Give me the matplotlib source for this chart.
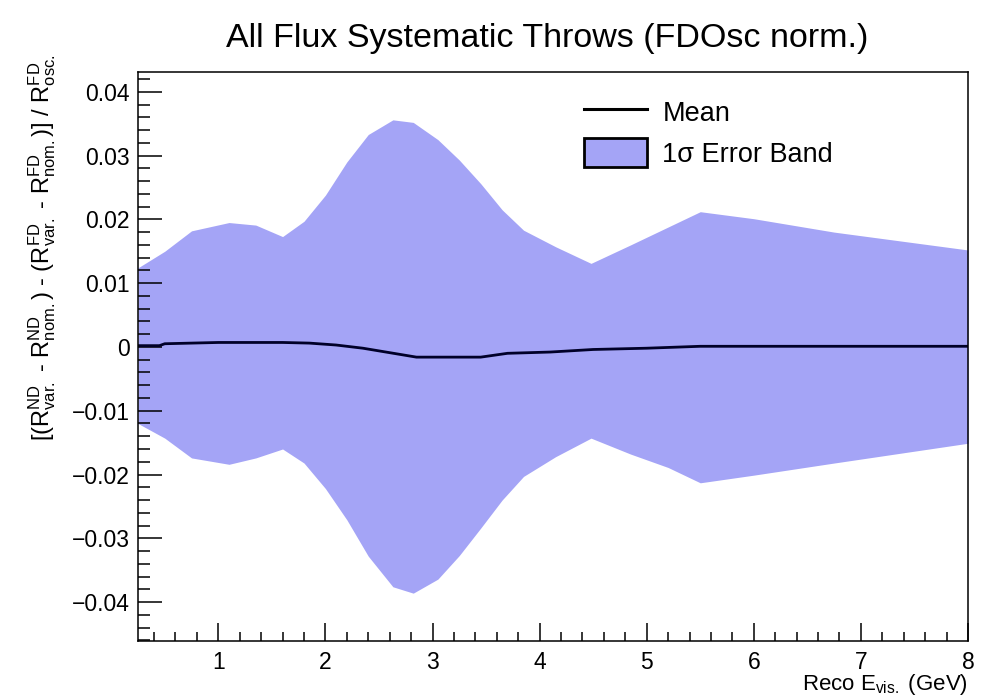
import matplotlib
matplotlib.use("Agg")
import matplotlib.pyplot as plt
from matplotlib.lines import Line2D
from matplotlib.patches import Patch
from matplotlib.ticker import MultipleLocator

plt.rcParams['font.family'] = ['Liberation Sans', 'DejaVu Sans']
plt.rcParams['mathtext.fontset'] = 'custom'
plt.rcParams['mathtext.rm'] = 'Liberation Sans'
plt.rcParams['mathtext.it'] = 'Liberation Sans:italic'
plt.rcParams['mathtext.bf'] = 'Liberation Sans:bold'

# reco visible energy (GeV) where the band edges are sampled
energy = [0.25, 0.5, 0.75, 1.1, 1.35, 1.6, 1.8, 2.0, 2.2, 2.4, 2.63, 2.82, 3.05,
          3.25, 3.45, 3.65, 3.85, 4.15, 4.48, 4.85, 5.2, 5.5, 6.0, 6.75, 8.0]
band_hi = [0.0124, 0.0150, 0.0182, 0.0195, 0.0191, 0.0173, 0.0197, 0.0238, 0.0290,
           0.0333, 0.0356, 0.0352, 0.0325, 0.0293, 0.0256, 0.0215, 0.0183, 0.0157,
           0.0131, 0.0160, 0.0188, 0.0212, 0.0201, 0.0180, 0.0152]
band_lo = [-0.0120, -0.0143, -0.0174, -0.0184, -0.0174, -0.0160, -0.0182, -0.0222,
           -0.0271, -0.0328, -0.0376, -0.0386, -0.0364, -0.0327, -0.0284, -0.0240,
           -0.0203, -0.0172, -0.0143, -0.0168, -0.0189, -0.0213, -0.0201, -0.0182,
           -0.0151]

# mean of the throws
mean_e = [0.25, 0.45, 0.5, 0.75, 1.0, 1.6, 1.85, 2.1, 2.35, 2.6, 2.85, 3.45, 3.7,
          4.1, 4.5, 5.0, 5.5, 8.0]
mean_v = [0.0002, 0.0002, 0.0005, 0.0006, 0.0007, 0.0007, 0.0006, 0.0003, -0.0002,
          -0.0009, -0.0016, -0.0016, -0.0010, -0.0008, -0.0004, -0.0002, 0.0001,
          0.0001]

band_color = '#a4a4f6'

fig = plt.figure(figsize=(9.92, 7.0), dpi=100)
ax = fig.add_axes([138/992, 1-641/700, (968-138)/992, (641-72)/700])

ax.fill_between(energy, band_lo, band_hi, color=band_color, lw=0)
ax.plot(mean_e, mean_v, color='#000028', lw=2.0)

ax.set_xlim(0.25, 8.0)
ax.set_ylim(-0.0461, 0.0431)

ax.xaxis.set_major_locator(MultipleLocator(1))
ax.xaxis.set_minor_locator(MultipleLocator(0.2))
ax.yaxis.set_major_locator(MultipleLocator(0.01))
ax.yaxis.set_minor_locator(MultipleLocator(0.002))
ax.yaxis.set_major_formatter(plt.FuncFormatter(
    lambda v, p: '0' if abs(v) < 1e-9 else ('%.2f' % v).replace('-', '\u2212')))

ax.tick_params(axis='both', which='both', direction='in', top=False, right=False,
               labelsize=16.5, width=1.1, color='black')
ax.tick_params(axis='x', which='major', length=13, pad=7)
ax.tick_params(axis='x', which='minor', length=6.5)
ax.tick_params(axis='y', which='major', length=17, pad=6)
ax.tick_params(axis='y', which='minor', length=8.6)
for s in ax.spines.values():
    s.set_linewidth(1.1)

fig.text(547/992, 1-38/700, 'All Flux Systematic Throws (FDOsc norm.)',
         ha='center', va='center', fontsize=24.5)

fig.text(968/992, 1-690/700, r'Reco E$_{\mathrm{vis.}}$ (GeV)', ha='right',
         va='baseline', fontsize=16)

dash = '\\ \u2010\\ '
ylab = (r'$[(\mathrm{R}^{\mathrm{ND}}_{\mathrm{var.}}' + dash + r'\mathrm{R}^{\mathrm{ND}}_{\mathrm{nom.}})'
        + dash + r'(\mathrm{R}^{\mathrm{FD}}_{\mathrm{var.}}' + dash + r'\mathrm{R}^{\mathrm{FD}}_{\mathrm{nom.}})]'
        r'\ /\ \mathrm{R}^{\mathrm{FD}}_{\mathrm{osc.}}$')
fig.text(42/992, 1-54/700, ylab, rotation=90, ha='center', va='top', fontsize=17)

handles = [Line2D([], [], color='black', lw=2.2),
           Patch(facecolor=band_color, edgecolor='black', lw=2)]
ax.legend(handles, ['Mean', '1\u03c3 Error Band'], loc='upper left',
          bbox_to_anchor=(0.524, 0.975), frameon=False, fontsize=19.5,
          handlelength=2.35, handleheight=1.3, labelspacing=0.4, handletextpad=0.55,
          borderaxespad=0)

fig.savefig('out.png', dpi=100)
